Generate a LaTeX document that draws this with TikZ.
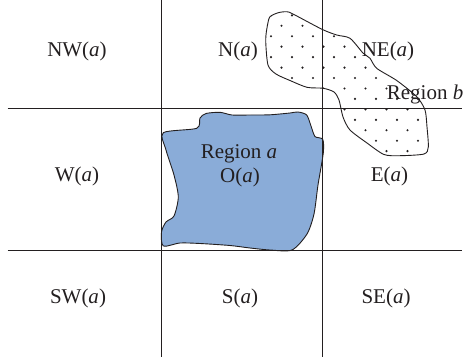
\documentclass[tikz,border=0pt]{standalone}
\usepackage{fontspec}
\setmainfont{Liberation Serif}
\usepackage{xcolor}
\usepackage{tikz}
\definecolor{ink}{HTML}{231F20}
\definecolor{rega}{HTML}{8AACD8}
\tikzset{
  grid/.style={draw=ink, line width=0.9pt},
  blob/.style={draw=ink, line width=0.9pt, line join=round},
  lab/.style={text=ink, inner sep=0pt, anchor=base, font=\fontsize{21}{25}\selectfont},
}

\begin{document}
\begin{tikzpicture}[x=1pt, y=-1pt]
  \useasboundingbox (0,0) rectangle (464,362);
  % region a
  \draw[blob, fill=rega] plot[smooth cycle, tension=0.45] coordinates {
    (163.3,132.7) (196.7,128.3) (200,118) (206,113.5) (220,112.3) (232,115)
    (250,115) (270,114.8) (290,113) (298,112) (306.7,115) (311,126) (315,136.5)
    (322.7,139.3) (323.3,153) (318,185) (314,214) (307,234) (292,250) (270,250)
    (250,248) (230,245.5) (200,243.5) (180,243) (163.3,246) (161.5,232) (166,222)
    (174,216) (178.3,197) (174,175) (166,150)};
  % region b
  \path[save path=\regb] plot[smooth cycle, tension=0.45] coordinates {
    (270,16.7) (278.3,12.7) (286.7,11.7) (293,14) (322,29.3) (336.7,35) (350,38.3)
    (363,53) (370,58.3) (376.7,68.3) (396.7,80.5) (416.7,96.7) (425,110) (427,127)
    (428.3,147) (424,154) (400,155.7) (384,154.5) (367,143) (350,130) (343,117)
    (339,100) (334,92) (323.3,88.3) (307,87.3) (290,80.5) (276,74) (268,65)
    (265.7,40) (267.5,25)};
  \fill[white, use path=\regb];
  \begin{scope}
    \clip[use path=\regb];
    \foreach \j in {0,...,14}{
      \foreach \i in {-2,...,7}{
        \pgfmathsetmacro{\dx}{292-10.5*mod(\j,2)+21*\i}
        \pgfmathsetmacro{\dy}{15.3+10.45*\j}
        \fill[ink] (\dx,\dy) circle (1.2pt);
      }
    }
  \end{scope}
  \draw[blob, use path=\regb];
  % grid
  \draw[grid] (161.7,0) -- (161.7,356.7);
  \draw[grid] (322.7,0) -- (322.7,356.7);
  \draw[grid] (7.5,108.3) -- (461.7,108.3);
  \draw[grid] (7.5,250) -- (461.7,250);
  % labels
  \node[lab] (nw) at (77,56) {NW(\textit{a})};
  \node[lab] (n) at (238,56) {N(\textit{a})};
  \node[lab] (ne) at (388,56) {NE(\textit{a})};
  \node[lab] (w) at (77,181.5) {W(\textit{a})};
  \node[lab] (ra) at (239,158) {Region \textit{a}};
  \node[lab] (o) at (240,182.5) {O(\textit{a})};
  \node[lab] (e) at (389.5,181.5) {E(\textit{a})};
  \node[lab, anchor=base east] (rb) at (463.5,99) {Region \textit{b}};
  \node[lab] (sw) at (78,303.3) {SW(\textit{a})};
  \node[lab] (s) at (240,303.3) {S(\textit{a})};
  \node[lab] (se) at (386,303.3) {SE(\textit{a})};
\end{tikzpicture}
\end{document}
